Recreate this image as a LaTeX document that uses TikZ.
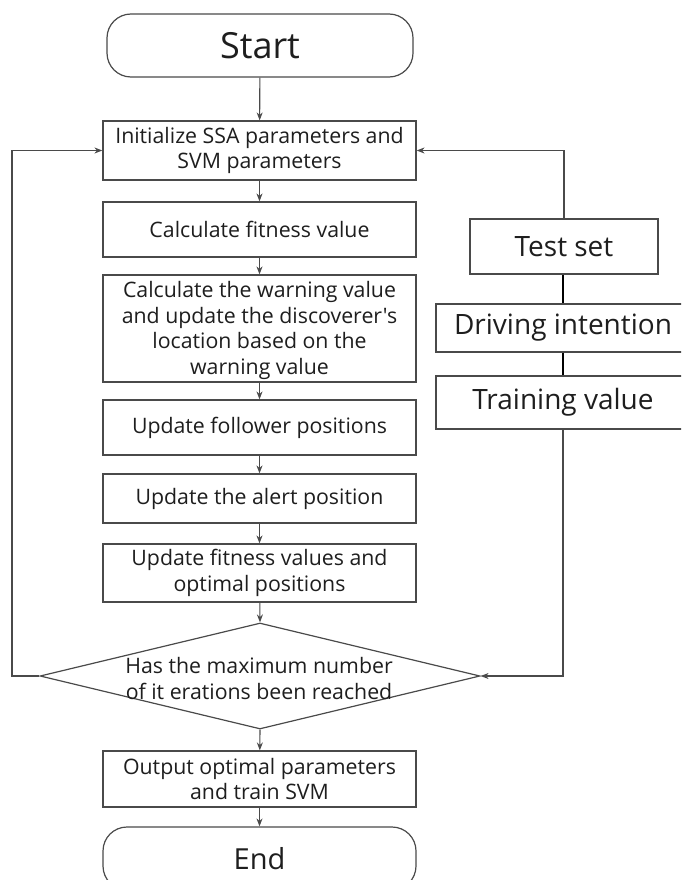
\documentclass[tikz,border=0pt]{standalone}
\usepackage{fontspec}
\setmainfont{Open Sans}[Ligatures=TeXOff]
\usetikzlibrary{shapes.geometric,arrows.meta}
\definecolor{ln}{HTML}{4A4A4A}
\definecolor{tx}{HTML}{1E1E1E}
\tikzset{
  box/.style={draw=ln,line width=1.2pt,rectangle,minimum width=313pt,inner sep=0pt,align=center,text=tx,font=\fontsize{21.3}{25.5}\selectfont},
  term/.style={box,rounded corners=24pt},
  side/.style={draw=ln,line width=1.2pt,rectangle,inner sep=0pt,align=center,text=tx,font=\fontsize{28}{32}\selectfont},
  arr/.style={draw=ln,line width=1.1pt,-{Stealth[length=8pt,width=6pt]}},
  thickln/.style={draw=black,line width=2.6pt},
  plain/.style={draw=ln,line width=1.1pt}
}
\begin{document}
\begin{tikzpicture}[x=1pt,y=-1pt]
\useasboundingbox (0,0) rectangle (681,880);
\clip (0,0) rectangle (681,880);
\fill[white] (0,0) rectangle (681,880);
% main column
\node[term,minimum width=306pt,minimum height=63pt,font=\fontsize{36}{40}\selectfont] (start) at (260,45.5) {Start};
\node[box,minimum height=59pt] (init) at (259.5,150.5) {Initialize SSA parameters and\\SVM parameters};
\node[box,minimum height=55pt] (fit) at (259.5,229.5) {Calculate fitness value};
\node[box,minimum height=107pt] (warn) at (259.5,328.5) {};
\node[anchor=base,text=tx,font=\fontsize{21.3}{25.5}\selectfont,align=center,inner sep=0pt] (warntxt) at (259.5,374) {Calculate the warning value\\and update the discoverer's\\location based on the\\warning value};
\node[box,minimum height=55pt] (fol) at (259.5,427.5) {Update follower positions};
\node[box,minimum height=49pt] (alert) at (259.5,498.5) {Update the alert position};
\node[box,minimum height=58pt] (upd) at (259.5,573) {Update fitness values and\\optimal positions};
\node[draw=ln,line width=1.2pt,diamond,minimum width=440pt,minimum height=106pt,inner sep=0pt] (dia) at (260,676) {};
\node[text=tx,font=\fontsize{21.3}{26}\selectfont,align=center,inner sep=0pt] (diatxt) at (259,679) {Has the maximum number\\of it erations been reached};
\node[box,minimum height=56pt] (out) at (259.5,779) {Output optimal parameters\\and train SVM};
\node[term,minimum height=63pt,font=\fontsize{29}{33}\selectfont] (end) at (259.5,858.5) {End};
% right column
\node[side,minimum width=188pt,minimum height=55pt] (test) at (564,246.5) {Test set};
\node[side,minimum width=254pt,minimum height=48pt] (drive) at (563,328) {Driving intention};
\node[side,minimum width=254pt,minimum height=53pt] (train) at (563,402.5) {Training value};
% connectors
\draw[arr] (start) -- (init);
\draw[arr] (init) -- (fit);
\draw[arr] (fit) -- (warn);
\draw[arr] (warn) -- (fol);
\draw[arr] (fol) -- (alert);
\draw[arr] (alert) -- (upd);
\draw[arr] (upd) -- (dia.north);
\draw[arr] (dia.south) -- (out);
\draw[arr] (out) -- (end);
\coordinate (loopL) at (12,676);
\draw[arr] (dia.west) -- (loopL) |- (init.west);
\draw[arr] (test.north) |- (init.east);
\draw[thickln] (test.south -| drive.north) -- (drive.north);
\draw[thickln] (drive.south) -- (train.north);
\draw[arr] (train.south) |- (dia.east);
\end{tikzpicture}
\end{document}
